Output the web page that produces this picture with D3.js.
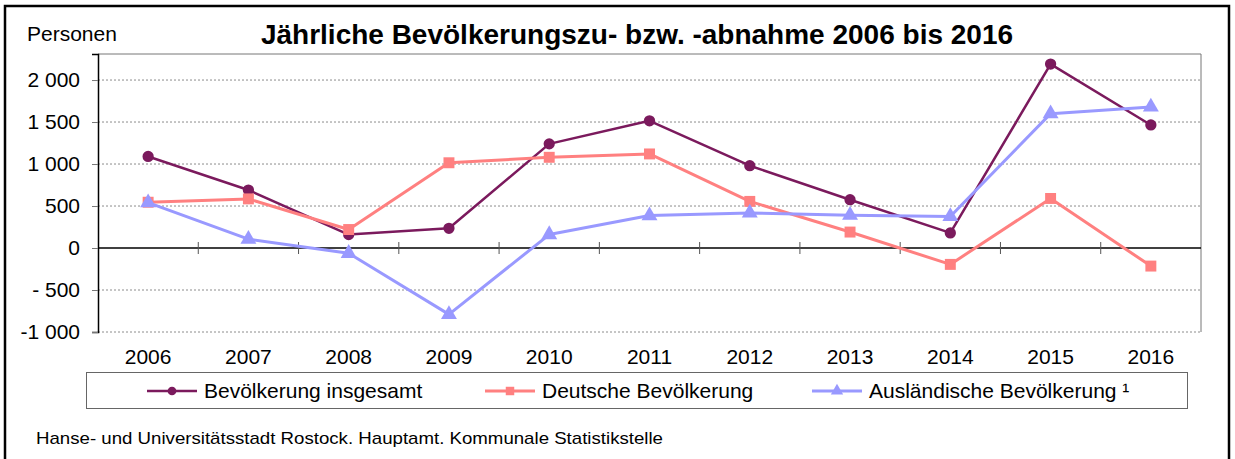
<!DOCTYPE html>
<html><head><meta charset="utf-8">
<script src="https://cdn.jsdelivr.net/npm/d3@7"></script>
<style>body{margin:0;background:#fff}svg{display:block}text{font-family:"Liberation Sans",Arial,sans-serif}</style>
</head><body>
<svg id="c" width="1235" height="459"></svg>
<script>
const years = ["2006","2007","2008","2009","2010","2011","2012","2013","2014","2015","2016"];
const insgesamt = [1090, 690, 160, 235, 1240, 1515, 980, 575, 180, 2190, 1465];
const deutsche = [545, 585, 220, 1015, 1080, 1120, 555, 190, -195, 590, -215];
const auslaendische = [540, 105, -63, -790, 160, 386, 418, 390, 375, 1600, 1680];
const yTicks = [-1000, -500, 0, 500, 1000, 1500, 2000];
const yTickLabels = ["-1 000", "- 500", "0", "500", "1 000", "1 500", "2 000"];
const seriesNames = ["Bevölkerung insgesamt", "Deutsche Bevölkerung", "Ausländische Bevölkerung ¹"];

const svg = d3.select("#c");
const L = 98, R = 1201, T = 54, B = 332;
const x = d3.scaleBand().domain(years).range([L, R]);
const y = d3.scaleLinear().domain([-1000, 2310]).range([B, T]);
const FF = '"Liberation Sans",Arial,sans-serif';

// outer frame
svg.append("rect").attr("x", 5).attr("y", 6).attr("width", 1224).attr("height", 470)
  .attr("fill", "none").attr("stroke", "#000").attr("stroke-width", 2.5);

// title
svg.append("text").attr("x", 637).attr("y", 44).attr("text-anchor", "middle")
  .attr("font-size", 28).attr("font-weight", "bold").text("Jährliche Bevölkerungszu- bzw. -abnahme 2006 bis 2016");
svg.append("text").attr("x", 27).attr("y", 41).attr("font-size", 21).text("Personen");

// gridlines
svg.selectAll("line.grid").data(yTicks.filter(v => v !== 0)).join("line")
  .attr("x1", L).attr("x2", R).attr("y1", d => y(d)).attr("y2", d => y(d))
  .attr("stroke", "#8c8c8c").attr("stroke-width", 1).attr("stroke-dasharray", "2,2");
// plot border top/right
svg.append("line").attr("x1", L).attr("x2", R).attr("y1", T).attr("y2", T).attr("stroke", "#777");
svg.append("line").attr("x1", R).attr("x2", R).attr("y1", T).attr("y2", B).attr("stroke", "#777");

// y axis
const yAxis = d3.axisLeft(y).tickValues(yTicks).tickSize(6).tickPadding(12)
  .tickFormat((d, i) => yTickLabels[i]);
const ya = svg.append("g").attr("transform", `translate(${L},0)`).call(yAxis);
ya.select(".domain").attr("stroke", "#000").attr("stroke-width", 1.5);
ya.selectAll(".tick line").attr("stroke", "#777");
ya.selectAll(".tick text").attr("font-size", 21).attr("fill", "#000").attr("font-family", FF);

// zero line with crossing ticks
svg.append("line").attr("x1", L).attr("x2", R).attr("y1", y(0)).attr("y2", y(0)).attr("stroke", "#000").attr("stroke-width", 1.5);
svg.selectAll("line.xt").data(years.slice(1)).join("line")
  .attr("x1", d => x(d)).attr("x2", d => x(d)).attr("y1", y(0) - 6).attr("y2", y(0) + 6)
  .attr("stroke", "#555").attr("stroke-width", 1);

// x labels
svg.selectAll("text.xl").data(years).join("text")
  .attr("x", d => x(d) + x.bandwidth() / 2).attr("y", 364).attr("text-anchor", "middle")
  .attr("font-size", 21).text(d => d);

const colors = ["#7b1a5d", "#ff8080", "#9999ff"];
const data = [insgesamt, deutsche, auslaendische];
const line = d3.line().x((d, i) => x(years[i]) + x.bandwidth() / 2).y(d => y(d));
const sym = [d3.symbolCircle, d3.symbolSquare, d3.symbolTriangle];
const symSize = [100, 120, 110];
const widths = [2.5, 3, 3];

data.forEach((vals, k) => {
  svg.append("path").datum(vals).attr("d", line).attr("fill", "none")
    .attr("stroke", colors[k]).attr("stroke-width", widths[k]).attr("stroke-linejoin", "round");
  svg.selectAll(null).data(vals).join("path")
    .attr("transform", (d, i) => `translate(${x(years[i]) + x.bandwidth() / 2},${y(d)})`)
    .attr("d", d3.symbol().type(sym[k]).size(symSize[k])).attr("fill", colors[k]);
});

// legend
svg.append("rect").attr("x", 86.5).attr("y", 372.5).attr("width", 1101).attr("height", 36)
  .attr("fill", "#fff").attr("stroke", "#666");
const legX = [147, 485, 812];
seriesNames.forEach((n, k) => {
  const lx = legX[k];
  svg.append("line").attr("x1", lx).attr("x2", lx + 50).attr("y1", 391).attr("y2", 391)
    .attr("stroke", colors[k]).attr("stroke-width", widths[k]);
  svg.append("path").attr("transform", `translate(${lx + 25},391)`)
    .attr("d", d3.symbol().type(sym[k]).size(symSize[k] * 0.6)).attr("fill", colors[k]);
  svg.append("text").attr("x", lx + 57).attr("y", 398).attr("font-size", 21).text(n);
});

// source
svg.append("text").attr("x", 36).attr("y", 444).attr("font-size", 17)
  .attr("textLength", 627).attr("lengthAdjust", "spacingAndGlyphs")
  .text("Hanse- und Universitätsstadt Rostock. Hauptamt. Kommunale Statistikstelle");
</script>
</body></html>
